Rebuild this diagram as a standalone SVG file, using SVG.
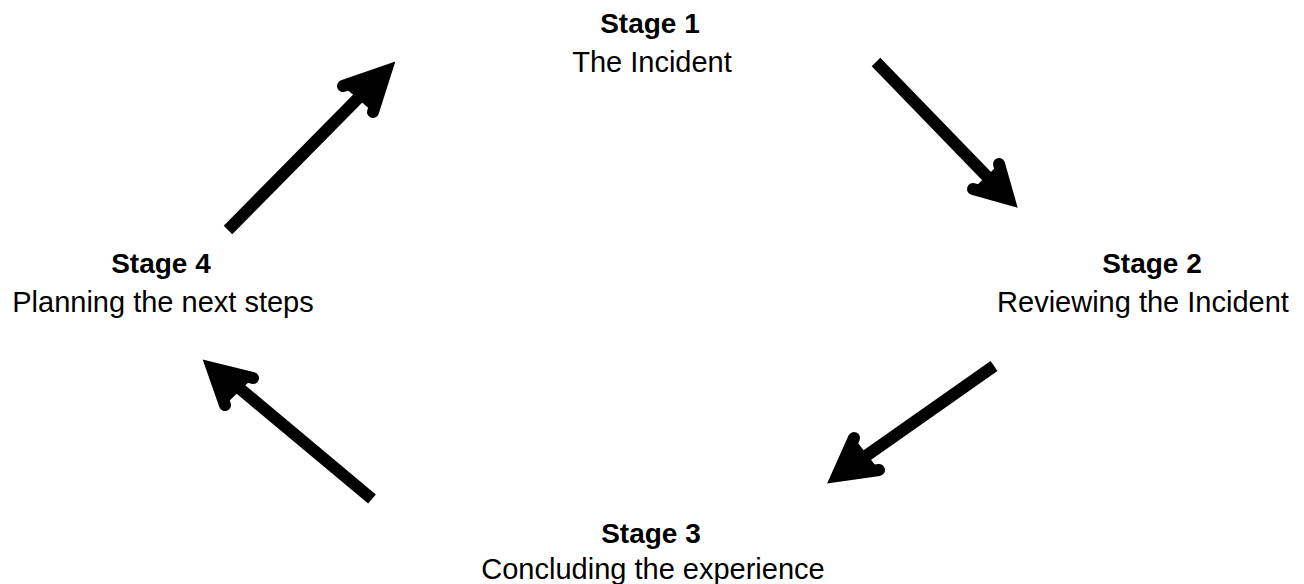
<svg xmlns="http://www.w3.org/2000/svg" width="1304" height="584" viewBox="0 0 1304 584">
<style>
.t{font-family:"Liberation Sans",Arial,sans-serif;font-size:29px;fill:#000;text-anchor:middle}
.b{font-weight:bold;font-size:28px}
.shaft{stroke:#000;stroke-width:12;fill:none;stroke-linecap:butt}
.head{stroke:#000;stroke-width:12;fill:#000;stroke-linecap:round;stroke-linejoin:miter;stroke-miterlimit:10}
</style>
<rect width="1304" height="584" fill="#fff"/>
<g id="stage1"><text class="t b" x="650" y="33">Stage 1</text><text class="t" x="652" y="72">The Incident</text></g>
<g id="stage2"><text class="t b" x="1152" y="273">Stage 2</text><text class="t" x="1143" y="312">Reviewing the Incident</text></g>
<g id="stage3"><text class="t b" x="651" y="543">Stage 3</text><text class="t" x="653" y="579">Concluding the experience</text></g>
<g id="stage4"><text class="t b" x="161" y="273">Stage 4</text><text class="t" x="163" y="312">Planning the next steps</text></g>
<g id="connectors">
<line class="shaft" x1="876" y1="62" x2="1002" y2="192"/>
<path class="head" d="M999 164 L1009 199 L973 189"/>
<line class="shaft" x1="228" y1="230" x2="380" y2="76"/>
<path class="head" d="M343 86 L386 71 L373 112"/>
<line class="shaft" x1="994" y1="366" x2="846" y2="470"/>
<path class="head" d="M854 438 L837 476 L879 470"/>
<line class="shaft" x1="372" y1="499" x2="220" y2="372"/>
<path class="head" d="M253 378 L212 368 L225 405"/>
</g>
</svg>
